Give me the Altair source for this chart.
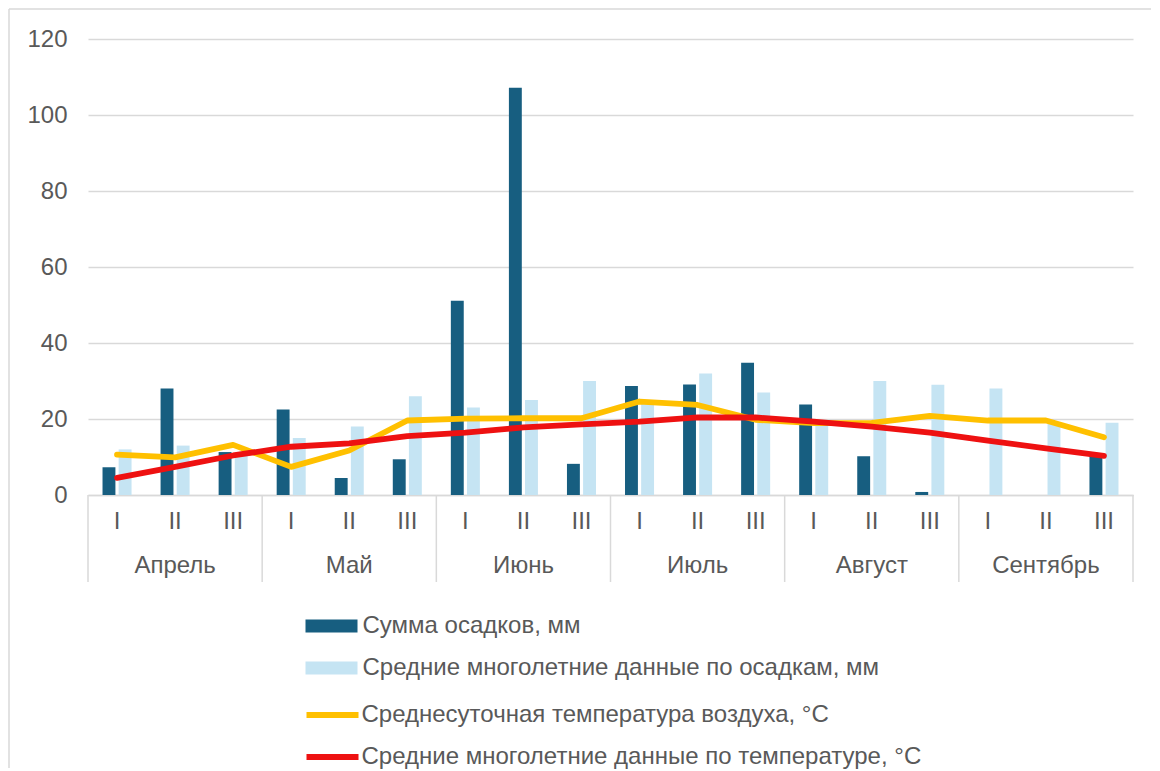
import altair as alt
import pandas as pd

months = ["Апрель", "Май", "Июнь", "Июль", "Август", "Сентябрь"]
decades = ["I", "II", "III"]

precip = [7.3, 28.0, 11.3, 22.5, 4.5, 9.4, 51.1, 107.2, 8.2, 28.7, 29.1, 34.8, 23.8, 10.2, 0.8, 0.0, 0.0, 11.0]
precip_norm = [12, 13, 11, 15, 18, 26, 23, 25, 30, 24, 32, 27, 19, 30, 29, 28, 19, 19]
temp = [10.6, 9.9, 13.2, 7.4, 11.7, 19.6, 20.1, 20.2, 20.2, 24.6, 23.7, 19.8, 18.9, 19.0, 20.8, 19.6, 19.6, 15.2]
temp_norm = [4.5, 7.4, 10.4, 12.7, 13.6, 15.5, 16.4, 17.8, 18.6, 19.3, 20.4, 20.4, 19.3, 18.0, 16.4, 14.3, 12.3, 10.3]

S1 = "Сумма осадков, мм"
S2 = "Средние многолетние данные по осадкам, мм"
S3 = "Среднесуточная температура воздуха, °C"
S4 = "Средние многолетние данные по температуре, °C"

DARK = "#175E80"
LIGHT = "#C5E4F3"
YEL = "#FFC000"
RED = "#EE1111"
GRID = "#D9D9D9"
TXT = "#595959"
FONT = "Liberation Sans"
FS = 24

W, H = 1045, 456

n = len(precip)
k = list(range(n))
bars_df = pd.DataFrame({"k": k * 2, "series": [S1] * n + [S2] * n, "value": precip + precip_norm})
lines_df = pd.DataFrame({"k": k * 2, "series": [S3] * n + [S4] * n, "value": temp + temp_norm})
dec_df = pd.DataFrame({"k": k, "label": [decades[i % 3] for i in k]})
mon_df = pd.DataFrame({"k": [3 * m + 1 for m in range(len(months))], "label": months})
sep_df = pd.DataFrame({"b": [3 * m for m in range(len(months) + 1)]})
one = pd.DataFrame({"a": [0]})

xscale = alt.Scale(type="band", domain=k, paddingInner=0.5, paddingOuter=0.25)
yscale = alt.Scale(domain=[0, 120], nice=False, zero=True)

bars = alt.Chart(bars_df).mark_bar().encode(
    x=alt.X("k:O", scale=xscale,
            axis=alt.Axis(labels=False, ticks=False, title=None, grid=False,
                          domainColor=GRID, domainWidth=1.5)),
    xOffset=alt.XOffset("series:N", scale=alt.Scale(domain=[S1, S2], paddingInner=0.2, paddingOuter=0)),
    y=alt.Y("value:Q", scale=yscale,
            axis=alt.Axis(values=[0, 20, 40, 60, 80, 100, 120], title=None, ticks=False, domain=False,
                          grid=True, gridColor=GRID, gridWidth=1.5, labelFontSize=FS,
                          labelColor=TXT, labelFont=FONT, labelPadding=21)),
    color=alt.Color("series:N", scale=alt.Scale(domain=[S1, S2], range=[DARK, LIGHT]),
                    legend=alt.Legend(orient="none", legendX=217.5, legendY=561, title=None,
                                      symbolType="M-1,-0.25H1V0.25H-1Z", symbolSize=2704,
                                      symbolStrokeWidth=0, labelFontSize=FS, labelColor=TXT,
                                      labelFont=FONT, labelLimit=900, labelOffset=5,
                                      rowPadding=4, padding=0, symbolOffset=0)),
)

lines = alt.Chart(lines_df).mark_line(strokeWidth=5.8, strokeCap="round", strokeJoin="round").encode(
    x=alt.X("k:O", scale=xscale),
    y=alt.Y("value:Q", scale=yscale),
    stroke=alt.Stroke("series:N", scale=alt.Scale(domain=[S3, S4], range=[YEL, RED]),
                      legend=alt.Legend(orient="none", legendX=215.5, legendY=647, title=None,
                                        symbolType="stroke", symbolSize=2704,
                                        symbolStrokeWidth=5.8, labelFontSize=FS, labelColor=TXT,
                                        labelFont=FONT, labelLimit=900, labelOffset=0,
                                        rowPadding=1, padding=0, symbolOffset=0)),
)

dec_text = alt.Chart(dec_df).mark_text(fontSize=FS, color=TXT, font=FONT, baseline="middle").encode(
    x=alt.X("k:O", scale=xscale), y=alt.value(H + 27), text="label:N")
mon_text = alt.Chart(mon_df).mark_text(fontSize=FS, color=TXT, font=FONT, baseline="middle").encode(
    x=alt.X("k:O", scale=xscale), y=alt.value(H + 71), text="label:N")

inner = alt.layer(bars, lines, dec_text, mon_text)

seps = alt.Chart(sep_df).mark_rule(color=GRID, strokeWidth=1.5).encode(
    x=alt.X("b:Q", scale=alt.Scale(domain=[0, n], nice=False, zero=False), axis=None),
    y=alt.value(H), y2=alt.value(H + 87))

border_left = alt.Chart(one).mark_rule(color=GRID, strokeWidth=1.5).encode(
    x=alt.value(-79), y=alt.value(-30), y2=alt.value(729))
border_top = alt.Chart(one).mark_rule(color=GRID, strokeWidth=1.5).encode(
    x=alt.value(-79), x2=alt.value(1063), y=alt.value(-30))

chart = alt.layer(border_left, border_top, inner, seps).resolve_scale(x="independent").properties(
    width=W, height=H, padding=0
).configure_view(stroke=None)

chart.save("out.html", embed_options={"renderer": "svg", "actions": False})
